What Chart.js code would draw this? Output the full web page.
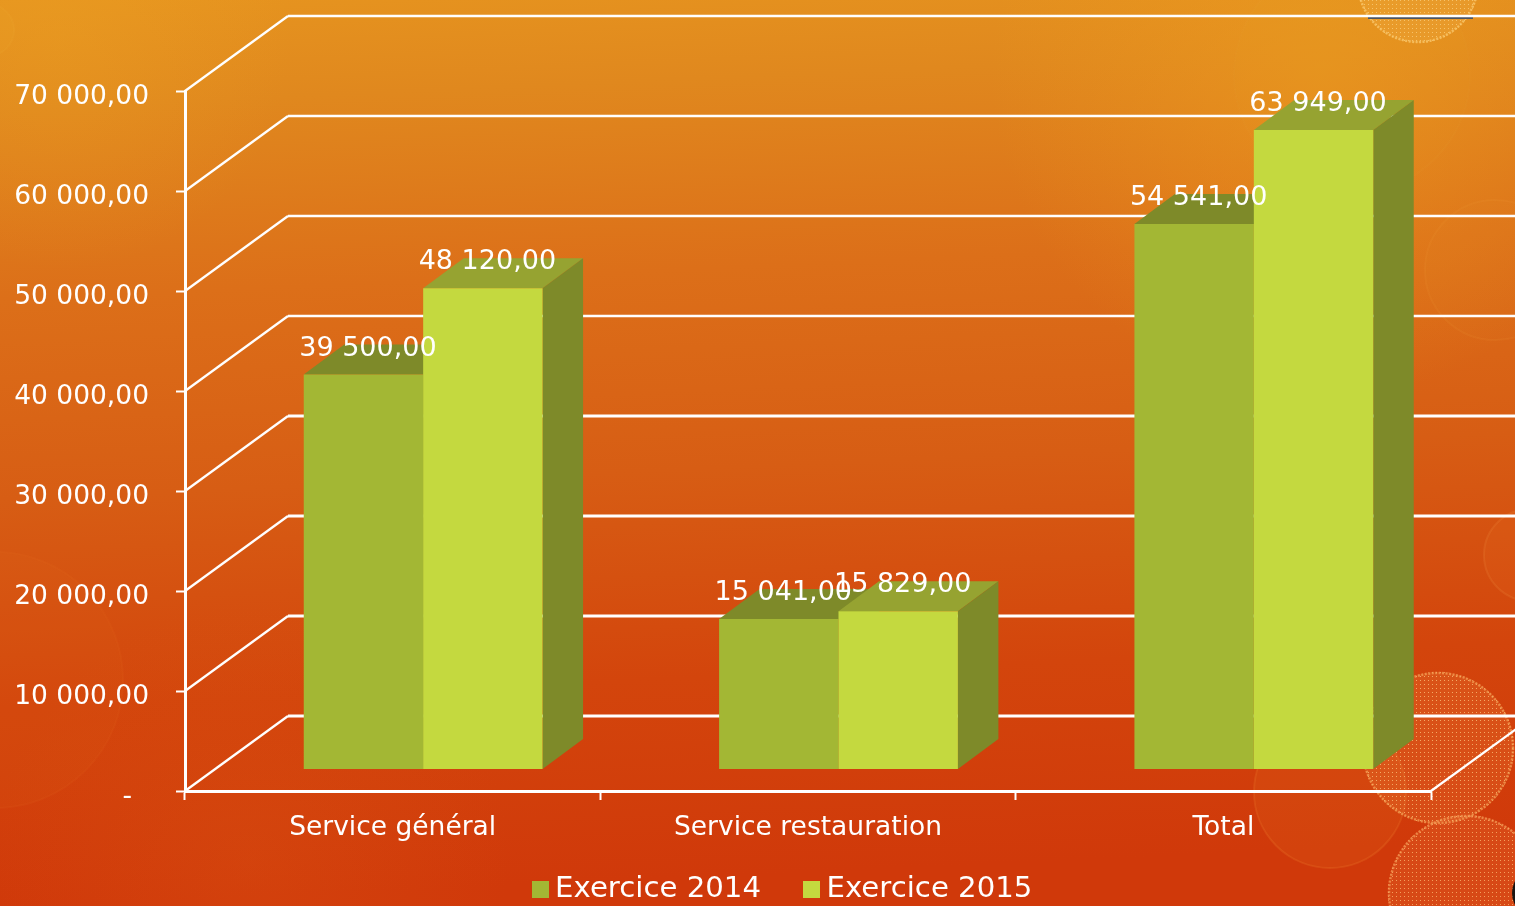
<!DOCTYPE html>
<html lang="fr">
<head>
<meta charset="utf-8">
<title>Exercice 2014 / 2015</title>
<script src="https://cdn.jsdelivr.net/npm/chart.js@4"></script>
<style>
html,body{margin:0;padding:0;background:#d8601a;overflow:hidden}
canvas{display:block}
</style>
</head>
<body>
<canvas id="c" width="1515" height="906"></canvas>
<script>
const categories = ['Service général', 'Service restauration', 'Total'];
const exercice2014 = [39500, 15041, 54541];
const exercice2015 = [48120, 15829, 63949];
const seriesNames = ['Exercice 2014', 'Exercice 2015'];
const FONT = '"DejaVu Sans", Verdana, sans-serif';

const frontFace = ['#a3b734', '#c4d93f'];
const topFace = ['#7e8a29', '#96a331'];
const sideFace = '#7e8a29';

/* perspective offsets, pixels */
const wall = {dx: 103, dy: -75};
const barShift = {dx: 30.5, dy: -21.5};
const barDepth = {dx: 40.5, dy: -30};

const fmt = v => {
  if (v === 0) return '-\u00a0\u00a0';
  return String(Math.round(v)).replace(/\B(?=(\d{3})+$)/g, ' ') + ',00';
};

function swatch(color) {
  const s = document.createElement('canvas');
  s.width = 17; s.height = 17;
  const g = s.getContext('2d');
  g.fillStyle = color;
  g.fillRect(0, 0, 17, 17);
  return s;
}

function dotPattern(ctx, color) {
  const s = document.createElement('canvas');
  s.width = 4; s.height = 4;
  const g = s.getContext('2d');
  g.fillStyle = color;
  g.fillRect(0, 0, 1, 1);
  return ctx.createPattern(s, 'repeat');
}

const backdrop = {
  id: 'backdrop',
  beforeDraw(chart) {
    const {ctx, width: W, height: H} = chart;
    ctx.save();
    const g = ctx.createLinearGradient(0, 0, 40, H);
    g.addColorStop(0, '#e6941f');
    g.addColorStop(0.12, '#e0881e');
    g.addColorStop(0.33, '#dc6f19');
    g.addColorStop(0.55, '#d75d14');
    g.addColorStop(0.78, '#d3450c');
    g.addColorStop(1, '#d0390a');
    ctx.fillStyle = g;
    ctx.fillRect(0, 0, W, H);

    const glow = (x, y, r, c) => {
      const q = ctx.createRadialGradient(x, y, 0, x, y, r);
      q.addColorStop(0, c);
      q.addColorStop(1, c.replace(/[\d.]+\)$/, '0)'));
      ctx.fillStyle = q;
      ctx.fillRect(0, 0, W, H);
    };
    glow(1320, 70, 330, 'rgba(238,160,32,0.5)');
    glow(60, 40, 230, 'rgba(238,165,35,0.3)');
    glow(250, 860, 260, 'rgba(220,90,20,0.25)');

    const ring = (x, y, r, fill, edge) => {
      ctx.beginPath();
      ctx.arc(x, y, r, 0, Math.PI * 2);
      ctx.fillStyle = fill;
      ctx.fill();
      ctx.strokeStyle = edge;
      ctx.lineWidth = 2;
      ctx.stroke();
    };
    ring(-5, 680, 128, 'rgba(230,110,30,0.10)', 'rgba(240,130,50,0.08)');
    ring(1330, 792, 76, 'rgba(230,110,30,0.18)', 'rgba(240,130,50,0.22)');
    ring(1352, 75, 118, 'rgba(240,170,50,0.04)', 'rgba(245,175,70,0.05)');
    ring(1495, 270, 70, 'rgba(240,150,50,0.05)', 'rgba(245,170,70,0.10)');
    ring(1530, 555, 46, 'rgba(235,120,40,0.12)', 'rgba(245,150,70,0.18)');
    ring(-12, 30, 26, 'rgba(240,175,50,0.08)', 'rgba(245,185,70,0.10)');

    const dotted = (x, y, r, dotColor, edge, tint) => {
      ctx.save();
      ctx.beginPath();
      ctx.arc(x, y, r, 0, Math.PI * 2);
      ctx.clip();
      ctx.fillStyle = tint;
      ctx.fillRect(x - r, y - r, r * 2, r * 2);
      ctx.fillStyle = dotPattern(ctx, dotColor);
      ctx.fillRect(x - r, y - r, r * 2, r * 2);
      ctx.restore();
      ctx.beginPath();
      ctx.arc(x, y, r - 1, 0, Math.PI * 2);
      ctx.strokeStyle = edge;
      ctx.lineWidth = 2.5;
      ctx.setLineDash([2, 1.5]);
      ctx.stroke();
      ctx.setLineDash([]);
    };
    dotted(1438, 748, 76, 'rgba(250,190,120,0.8)', 'rgba(245,165,90,0.7)', 'rgba(240,140,70,0.22)');
    dotted(1466, 893, 78, 'rgba(250,180,110,0.8)', 'rgba(245,160,90,0.7)', 'rgba(240,130,70,0.22)');
    dotted(1418, -18, 61, 'rgba(250,205,120,0.8)', 'rgba(250,200,110,0.75)', 'rgba(245,180,80,0.22)');

    ctx.fillStyle = '#4f5560';
    ctx.fillRect(1368, 17, 105, 2);
    ctx.fillStyle = '#1b1512';
    ctx.beginPath();
    ctx.arc(1537, 893, 25, 0, Math.PI * 2);
    ctx.fill();
    ctx.restore();
  }
};

const perspective = {
  id: 'perspective',
  beforeLayout(chart) {
    chart.legend.isHorizontal = () => true;
  },
  beforeDatasetsDraw(chart) {
    const {ctx, scales: {y}, chartArea: a} = chart;
    ctx.save();
    ctx.strokeStyle = '#ffffff';
    y.ticks.forEach(t => {
      const py = y.getPixelForValue(t.value);
      ctx.lineWidth = 2.3;
      ctx.beginPath();
      ctx.moveTo(a.left, py);
      ctx.lineTo(a.left + wall.dx, py + wall.dy);
      ctx.stroke();
      ctx.lineWidth = t.value >= 40000 ? 2.4 : 3;
      ctx.beginPath();
      ctx.moveTo(a.left + wall.dx, py + wall.dy);
      ctx.lineTo(a.right + wall.dx, py + wall.dy);
      ctx.stroke();
    });
    ctx.lineWidth = 2.3;
    ctx.beginPath();
    ctx.moveTo(a.right, y.getPixelForValue(0));
    ctx.lineTo(a.right + wall.dx, y.getPixelForValue(0) + wall.dy);
    ctx.stroke();
    ctx.restore();
  },
  /* The library paints the first dataset last; the second bar must cover the
     first bar's top face, so the two datasets are painted here in series order. */
  beforeDatasetDraw() {
    return false;
  },
  afterDatasetsDraw(chart) {
    const {ctx} = chart;
    const d = barDepth;
    [0, 1].forEach(i => {
      const meta = chart.getDatasetMeta(i);
      ctx.save();
      ctx.translate(barShift.dx, barShift.dy);
      meta.data.forEach(bar => {
        const l = bar.x - bar.width / 2;
        const r = bar.x + bar.width / 2;
        ctx.fillStyle = topFace[i];
        ctx.beginPath();
        ctx.moveTo(l, bar.y);
        ctx.lineTo(l + d.dx, bar.y + d.dy);
        ctx.lineTo(r + d.dx, bar.y + d.dy);
        ctx.lineTo(r, bar.y);
        ctx.closePath();
        ctx.fill();
        ctx.fillStyle = sideFace;
        ctx.beginPath();
        ctx.moveTo(r, bar.y);
        ctx.lineTo(r + d.dx, bar.y + d.dy);
        ctx.lineTo(r + d.dx, bar.base + d.dy);
        ctx.lineTo(r, bar.base);
        ctx.closePath();
        ctx.fill();
      });
      meta.controller.draw();
      ctx.restore();
    });
    ctx.save();
    ctx.fillStyle = '#ffffff';
    ctx.font = '27px ' + FONT;
    ctx.textAlign = 'center';
    ctx.textBaseline = 'middle';
    [0, 1].forEach(i => {
      const meta = chart.getDatasetMeta(i);
      meta.data.forEach((bar, k) => {
        const v = chart.data.datasets[i].data[k];
        ctx.fillText(fmt(v), bar.x + barShift.dx + 4.5, bar.y + barShift.dy - 26);
      });
    });
    ctx.restore();
  },
  afterLayout(chart) {
    const lg = chart.legend;
    lg.left = 489.5;
    lg.right = 1100;
    lg.top = 825;
    lg.bottom = 906;
    lg.width = lg.right - lg.left;
    lg.height = lg.bottom - lg.top;
  }
};

new Chart(document.getElementById('c'), {
  type: 'bar',
  data: {
    labels: categories,
    datasets: [
      {label: seriesNames[0], data: exercice2014, backgroundColor: frontFace[0]},
      {label: seriesNames[1], data: exercice2015, backgroundColor: frontFace[1]}
    ]
  },
  plugins: [backdrop, perspective],
  options: {
    responsive: false,
    animation: false,
    devicePixelRatio: 1,
    layout: {padding: {top: 91, right: 84, left: 0, bottom: 0}},
    datasets: {bar: {categoryPercentage: 0.575, barPercentage: 1}},
    scales: {
      x: {
        afterFit(s) { s.height = 115; },
        border: {color: '#ffffff', width: 3},
        grid: {drawOnChartArea: false, drawTicks: true, tickLength: 9, tickColor: '#ffffff', tickWidth: 2},
        ticks: {color: '#ffffff', font: {family: FONT, size: 26.5}, padding: 12, maxRotation: 0, autoSkip: false}
      },
      y: {
        min: 0,
        max: 70000,
        afterFit(s) { s.width = 185; },
        border: {color: '#ffffff', width: 3},
        grid: {drawOnChartArea: false, drawTicks: true, tickLength: 9, tickColor: '#ffffff', tickWidth: 2},
        ticks: {stepSize: 10000, color: '#ffffff', font: {family: FONT, size: 26.5}, padding: 27, labelOffset: 6, callback: v => fmt(v)}
      }
    },
    plugins: {
      title: {display: false},
      tooltip: {enabled: false},
      legend: {
        display: true,
        position: 'chartArea',
        align: 'start',
        labels: {
          color: '#ffffff',
          font: {family: FONT, size: 29.2},
          usePointStyle: true,
          boxWidth: 1,
          padding: 50,
          generateLabels: () => seriesNames.map((name, i) => ({
            text: name,
            fontColor: '#ffffff',
            fillStyle: frontFace[i],
            strokeStyle: frontFace[i],
            lineWidth: 0,
            pointStyle: swatch(frontFace[i]),
            datasetIndex: i
          }))
        }
      }
    }
  }
});
</script>
</body>
</html>
